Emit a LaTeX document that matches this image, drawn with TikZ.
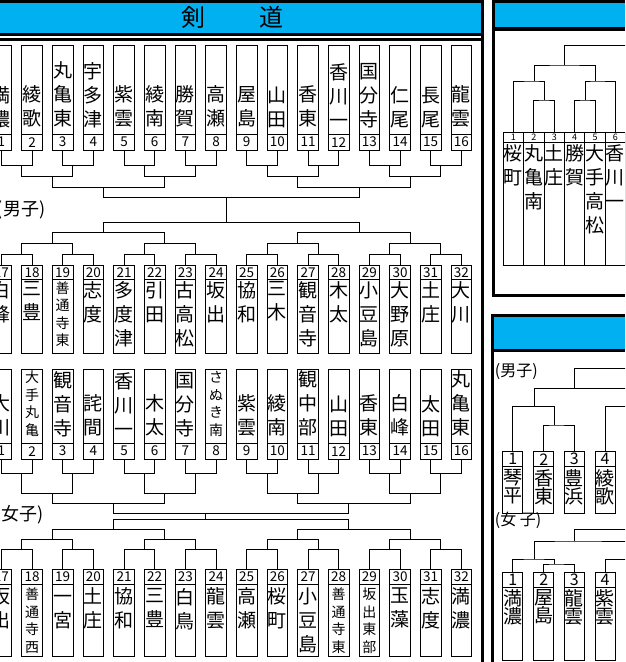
\documentclass[tikz,border=0pt]{standalone}
\usepackage{fontspec}
\setmainfont{Noto Sans CJK JP}
\usepackage{tikz}
\usetikzlibrary{positioning}
\definecolor{hdrblue}{HTML}{00B0F0}

\begin{document}
\begin{tikzpicture}[x=1pt,y=-1pt,line width=0.9pt,
  tie/.style={draw,line width=0.9pt}]
\useasboundingbox (0,0) rectangle (625,662);
\clip (0,0) rectangle (625,662);

% Define block styles
\tikzstyle{teambox} = [rectangle, draw, minimum width=20.7pt, inner sep=0pt]
\tikzstyle{numcell} = [teambox, font=\fontsize{13.5}{14}\selectfont]
\tikzstyle{nm} = [inner sep=0pt, align=center, font=\fontsize{19}{24}\selectfont]
\tikzstyle{sm} = [inner sep=0pt, align=center, font=\fontsize{14}{17.5}\selectfont]
\tikzstyle{tight} = [inner sep=0pt, align=center, font={\fontsize{19}{18}\selectfont\lineskiplimit=-9pt}]
\tikzstyle{grp} = [inner sep=0pt, font=\fontsize{18}{18}\selectfont]

% frames and headers
\fill (-5,0) rectangle (484,3.3);
\fill[hdrblue] (-5,3.3) rectangle (481,33.3);
\fill (-5,33.3) rectangle (484,36);
\fill (-5,37.7) rectangle (481,40.7);
\fill (481,0) rectangle (484,662);
\node[font=\fontsize{24}{24}\selectfont, inner sep=0pt] (title) at (232.3,17.5) {剣\hspace{54.5pt}道};

\fill (492,0) rectangle (625,3.3);
\fill[hdrblue] (494.5,3.3) rectangle (625,27.3);
\fill (492,27.3) rectangle (625,30.7);
\fill (492,0) rectangle (494.5,297);
\fill (492,294) rectangle (625,297);

\fill (491,314) rectangle (625,316.7);
\fill[hdrblue] (494,316.7) rectangle (625,349.3);
\fill (491,349.3) rectangle (625,352.3);
\fill (491,314) rectangle (494,662);

% boys 1-16
\foreach \i/\txt in {1/{満\\濃},2/{綾\\歌},3/{丸\\亀\\東},4/{宇\\多\\津},5/{紫\\雲},6/{綾\\南},
    7/{勝\\賀},8/{高\\瀬},9/{屋\\島},10/{山\\田},11/{香\\東},12/{香\\川\\一},13/{国\\分\\寺},
    14/{仁\\尾},15/{長\\尾},16/{龍\\雲}}{
  \node[teambox, minimum height=89.3pt] (m\i) at ({30.667*\i-29.333},89.65) {};
  \node[numcell, minimum height=15.7pt] (mn\i) at ({30.667*\i-29.333},142.15) {\i};
  \node[nm, above=6.8pt of m\i.south] (mt\i) {\txt};
}
% boys 17-32
\foreach \i/\txt/\st in {17/{白\\峰}/nm,18/{三\\豊}/nm,19/{善\\通\\寺\\東}/sm,20/{志\\度}/nm,
    21/{多\\度\\津}/nm,22/{引\\田}/nm,23/{古\\高\\松}/nm,24/{坂\\出}/nm,25/{協\\和}/nm,
    26/{三\\木}/nm,27/{観\\音\\寺}/nm,28/{木\\太}/nm,29/{小\\豆\\島}/nm,30/{大\\野\\原}/nm,
    31/{土\\庄}/nm,32/{大\\川}/nm}{
  \node[numcell, minimum height=14.7pt] (mn\i) at ({30.667*\i-520},272.35) {\i};
  \node[teambox, minimum height=73.6pt] (m\i) at ({30.667*\i-520},316.5) {};
  \node[\st, below=2pt of m\i.north] (mt\i) {\txt};
}
% girls 1-16
\foreach \i/\txt/\st in {1/{大\\川}/nm,2/{大\\手\\丸\\亀}/sm,3/{観\\音\\寺}/nm,4/{詫\\間}/nm,
    5/{香\\川\\一}/nm,6/{木\\太}/nm,7/{国\\分\\寺}/nm,8/{さ\\ぬ\\き\\南}/sm,9/{紫\\雲}/nm,
    10/{綾\\南}/nm,11/{観\\中\\部}/nm,12/{山\\田}/nm,13/{香\\東}/nm,14/{白\\峰}/nm,
    15/{太\\田}/nm,16/{丸\\亀\\東}/nm}{
  \node[teambox, minimum height=74pt] (f\i) at ({30.667*\i-29.333},406.3) {};
  \node[numcell, minimum height=15.7pt] (fn\i) at ({30.667*\i-29.333},451.15) {\i};
  \node[\st, above=6.8pt of f\i.south] (ft\i) {\txt};
}
% girls 17-32
\foreach \i/\txt/\st in {17/{坂\\出}/nm,18/{善\\通\\寺\\西}/sm,19/{\vphantom{国}一\\宮}/nm,20/{土\\庄}/nm,
    21/{協\\和}/nm,22/{三\\豊}/nm,23/{白\\鳥}/nm,24/{龍\\雲}/nm,25/{高\\瀬}/nm,26/{桜\\町}/nm,
    27/{小\\豆\\島}/nm,28/{善\\通\\寺\\東}/sm,29/{坂\\出\\東\\部}/sm,30/{玉\\藻}/nm,
    31/{志\\度}/nm,32/{満\\濃}/nm}{
  \node[numcell, minimum height=14.7pt] (fn\i) at ({30.667*\i-520},576.65) {\i};
  \node[teambox, minimum height=72.7pt] (f\i) at ({30.667*\i-520},620.35) {};
  \node[\st, below=4pt of f\i.north] (ft\i) {\txt};
}

\node[grp, anchor=west] (mlab) at (-3.5,210) {(男子)};
\node[grp, anchor=west] (flab) at (-5.5,515) {(女子)};

% bracket joints
\foreach \j/\x in {1/21.8,2/72.9,3/144.4,4/195.6,5/267.1,6/318.2,7/389.8,8/440.9}{
  \coordinate (mua\j) at (\x,165.7);
  \coordinate (mla\j) at (\x,254.3);
  \coordinate (fua\j) at (\x,473.3);
  \coordinate (fla\j) at (\x,549.3);
}
\foreach \j/\x in {1/52.4,2/164.9,3/297.8,4/410.2}{
  \coordinate (mub\j) at (\x,176.7);
  \coordinate (mlb\j) at (\x,243.3);
  \coordinate (fub\j) at (\x,493.3);
  \coordinate (flb\j) at (\x,539.3);
}
\coordinate (muc1) at (103.6,187.3); \coordinate (muc2) at (359.1,187.3);
\coordinate (mlc1) at (103.6,232.7); \coordinate (mlc2) at (359.1,232.7);
\coordinate (fuc1) at (113.8,503.3); \coordinate (fuc2) at (348.9,503.3);
\coordinate (flc1) at (113.8,529.3); \coordinate (flc2) at (348.9,529.3);
\coordinate (mud) at (226.4,197.3); \coordinate (mld) at (226.4,222.7);
\coordinate (fud) at (205.8,513.3); \coordinate (fld) at (205.8,519.3);

\foreach \j in {1,...,8}{
  \pgfmathtruncatemacro\lft{2*\j-1}
  \pgfmathtruncatemacro\rgt{2*\j}
  \draw[tie] (mn\lft.south) |- (mua\j) -| (mn\rgt.south);
  \draw[tie] (fn\lft.south) |- (fua\j) -| (fn\rgt.south);
  \pgfmathtruncatemacro\lft{2*\j+15}
  \pgfmathtruncatemacro\rgt{2*\j+16}
  \draw[tie] (mn\lft.north) |- (mla\j) -| (mn\rgt.north);
  \draw[tie] (fn\lft.north) |- (fla\j) -| (fn\rgt.north);
}
\foreach \h in {mu,ml,fu,fl}{
  \foreach \j in {1,...,4}{
    \pgfmathtruncatemacro\lft{2*\j-1}
    \pgfmathtruncatemacro\rgt{2*\j}
    \draw[tie] (\h a\lft) |- (\h b\j) -| (\h a\rgt);
  }
  \draw[tie] (\h b1) |- (\h c1) -| (\h b2);
  \draw[tie] (\h b3) |- (\h c2) -| (\h b4);
  \draw[tie] (\h c1) |- (\h d) -| (\h c2);
}
\draw[tie] (mud) -- (mld);
\draw[tie] (fud) -- (fld);

% right panel, top
\foreach \i/\x/\txt in {1/513.3/{桜\\町},2/533.8/{丸\\亀\\南},3/554.3/{土\\庄},4/574.7/{勝\\賀},
    5/595/{大\\手\\高\\松},6/615.3/{香\\川\\一}}{
  \node[teambox, minimum width=20.3pt, minimum height=9.3pt, font=\fontsize{9}{9}\selectfont] (sn\i) at (\x,137.35) {\i};
  \node[teambox, minimum width=20.3pt, minimum height=123pt] (s\i) at (\x,203.5) {};
  \node[nm, below=3pt of s\i.north] (st\i) {\txt};
}
\coordinate (sb1) at (544.3,100);
\coordinate (sb2) at (585,100);
\coordinate (sa1) at (534.3,81);
\coordinate (sa2) at (595,81);
\coordinate (sc) at (564.3,65);
\coordinate (sd) at (630,45);
\draw[tie] (sn2.north) |- (sb1) -| (sn3.north);
\draw[tie] (sn4.north) |- (sb2) -| (sn5.north);
\draw[tie] (sn1.north) |- (sa1) -| (sb1);
\draw[tie] (sb2) |- (sa2) -| (sn6.north);
\draw[tie] (sa1) |- (sc) -| (sa2);
\draw[tie] (sc) |- (sd);

% right panel, bottom
\foreach \i/\x/\txt in {1/512.8/{琴\\平},2/543.8/{香\\東},3/574.3/{豊\\浜},4/605/{綾\\歌}}{
  \node[teambox, minimum width=20pt, minimum height=15pt, font=\fontsize{16}{16}\selectfont] (rn\i) at (\x,459.2) {\i};
  \node[teambox, minimum width=20pt, minimum height=46.6pt] (r\i) at (\x,490) {};
  \node[tight, below=3pt of r\i.north] (rt\i) {\txt};
}
\foreach \i/\x/\txt in {1/512.8/{満\\濃},2/543.8/{屋\\島},3/574.3/{龍\\雲},4/605/{紫\\雲}}{
  \node[teambox, minimum width=20pt, minimum height=15pt, font=\fontsize{16}{16}\selectfont] (qn\i) at (\x,579.5) {\i};
  \node[teambox, minimum width=20pt, minimum height=73pt] (q\i) at (\x,623.5) {};
  \node[tight, below=3pt of q\i.north] (qt\i) {\txt};
}
\node[grp, font=\fontsize{16}{16}\selectfont, anchor=west] (rlab) at (494.5,372) {(男子)};
\node[grp, font=\fontsize{16}{16}\selectfont, anchor=west] (qlab) at (494.5,520) {(女 子)};

\coordinate (rb) at (554.3,425);
\coordinate (ra) at (534.3,406.7);
\coordinate (rx) at (630,406.7);
\coordinate (rc) at (574.3,388.3);
\coordinate (ry) at (630,388.3);
\coordinate (rd) at (630,368.3);
\draw[tie] (rn2.north) |- (rb) -| (rn3.north);
\draw[tie] (rn1.north) |- (ra) -| (rb);
\draw[tie] (rn4.north) |- (rx);
\draw[tie] (ra) |- (rc) -- (ry);
\draw[tie] (rc) |- (rd);

\coordinate (qb) at (554.3,564);
\coordinate (qa) at (534.3,559);
\coordinate (qx) at (630,559);
\coordinate (qc) at (574.3,541);
\coordinate (qy) at (630,541);
\coordinate (qd) at (630,529);
\draw[tie] (qn2.north) |- (qb) -| (qn3.north);
\draw[tie] (qn1.north) |- (qa) -| (qb);
\draw[tie] (qn4.north) |- (qx);
\draw[tie] (qa) |- (qc) -- (qy);
\draw[tie] (qc) |- (qd);

\end{tikzpicture}
\end{document}
